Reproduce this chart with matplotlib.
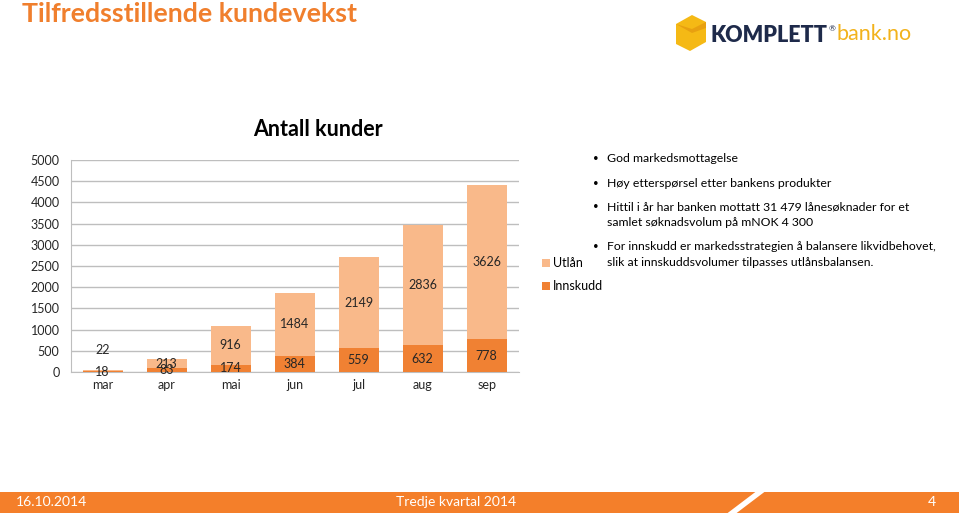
import matplotlib.pyplot as plt
from matplotlib.patches import Rectangle, Polygon

# data
months = ['mar', 'apr', 'mai', 'jun', 'jul', 'aug', 'sep']
innskudd = [18, 83, 174, 384, 559, 632, 778]
utlan = [22, 213, 916, 1484, 2149, 2836, 3626]
yticks = list(range(0, 5001, 500))

bullets = [
    ('God markedsmottagelse', None),
    ('Høy etterspørsel etter bankens produkter', None),
    ('Hittil i år har banken mottatt 31 479 lånesøknader for et', 'samlet søknadsvolum på mNOK 4 300'),
    ('For innskudd er markedsstrategien å balansere likvidbehovet,', 'slik at innskuddsvolumer tilpasses utlånsbalansen.'),
]

ORANGE = '#F07F2D'
LIGHT = '#F9B98A'
DARK = '#F08133'
GRID = '#BEBEBE'
FONT = ['Lato', 'DejaVu Sans']

plt.rcParams['font.family'] = FONT

W, H = 959, 518
fig = plt.figure(figsize=(W / 100, H / 100), dpi=100)


def fx(px):
    return px / W


def fy(py):
    return 1 - py / H


# header title
fig.text(fx(22), fy(14), 'Tilfredsstillende kundevekst', color=ORANGE, fontsize=19.3,
         fontweight='bold', va='center', ha='left')

# logo
cube = Polygon([(fx(676), fy(24)), (fx(692), fy(15)), (fx(706), fy(22)), (fx(706), fy(42)),
                (fx(690), fy(51)), (fx(676), fy(44))], closed=True, transform=fig.transFigure,
               facecolor='#F5B915', edgecolor='none')
fig.patches.append(cube)
notch = Polygon([(fx(676), fy(24)), (fx(692), fy(33)), (fx(706), fy(28)), (fx(706), fy(22)),
                 (fx(692), fy(29))], closed=True, transform=fig.transFigure,
                facecolor='#E8A010', edgecolor='none')
fig.patches.append(notch)
fig.text(fx(711), fy(35), 'KOMPLETT', color='#1E2A4A', fontsize=15.5, fontweight='heavy',
         va='center', ha='left')
fig.text(fx(829), fy(29), '®', color='#1E2A4A', fontsize=6, va='center', ha='left')
fig.text(fx(836), fy(34), 'bank.no', color='#F2B21B', fontsize=15.5, va='center', ha='left')

# chart
ax = fig.add_axes([fx(70.7), fy(372), fx(518.7 - 70.7), fy(160) - fy(372)])
x = range(len(months))
b1 = ax.bar(x, innskudd, width=0.63, color=DARK, label='Innskudd', zorder=3)
b2 = ax.bar(x, utlan, width=0.63, bottom=innskudd, color=LIGHT, label='Utlån', zorder=3)

for i in x:
    ax.text(i, innskudd[i] / 2, str(innskudd[i]), ha='center', va='center', fontsize=9,
            color='#262626', zorder=4)
    yv = innskudd[i] + utlan[i] / 2
    if i == 0:
        yv = 520  # label moved up in the original
    ax.text(i, yv, str(utlan[i]), ha='center', va='center', fontsize=9,
            color='#262626', zorder=4)

ax.set_xlim(-0.5, len(months) - 0.5)
ax.set_ylim(0, 5000)
ax.set_yticks(yticks)
ax.set_yticklabels([str(v) for v in yticks], fontsize=9)
ax.set_xticks(list(x))
ax.set_xticklabels(months, fontsize=9)
ax.tick_params(length=0, pad=8, colors='#262626')
ax.tick_params(axis='x', pad=5)
ax.grid(axis='y', color=GRID, linewidth=1, zorder=0)
for s in ['top', 'right']:
    ax.spines[s].set_visible(False)
ax.spines['left'].set_color(GRID)
ax.spines['bottom'].set_color(GRID)

fig.text(fx(318), fy(129), 'Antall kunder', fontsize=15.5, fontweight='bold', ha='center',
         va='center', color='black')

ax.legend(handles=[b2, b1], loc='upper left', bbox_to_anchor=(fx(531), fy(246)),
          bbox_transform=fig.transFigure, frameon=False, fontsize=9,
          handlelength=0.6, handleheight=0.6, handletextpad=0.25, labelspacing=0.9)

# bullets
y = 159
for first, second in bullets:
    fig.text(fx(593), fy(y), '•', fontsize=7, ha='left', va='center')
    fig.text(fx(607), fy(y), first, fontsize=8.8, ha='left', va='center')
    if second:
        y += 16
        fig.text(fx(607), fy(y), second, fontsize=8.8, ha='left', va='center')
    y += 24

# footer band
band = Rectangle((0, fy(513)), 1, fy(492) - fy(513), transform=fig.transFigure,
                 facecolor='#F47F2A', edgecolor='none')
fig.patches.append(band)
slash = Polygon([(fx(725), fy(515)), (fx(734), fy(515)), (fx(767), fy(490)), (fx(758), fy(490))],
                closed=True, transform=fig.transFigure, facecolor='white', edgecolor='none')
fig.patches.append(slash)
fig.text(fx(16), fy(502), '16.10.2014', color='white', fontsize=10, ha='left', va='center')
fig.text(fx(456), fy(502), 'Tredje kvartal 2014', color='white', fontsize=10, ha='center', va='center')
fig.text(fx(932), fy(502), '4', color='white', fontsize=10, ha='center', va='center')

fig.savefig('out.png', dpi=100)
